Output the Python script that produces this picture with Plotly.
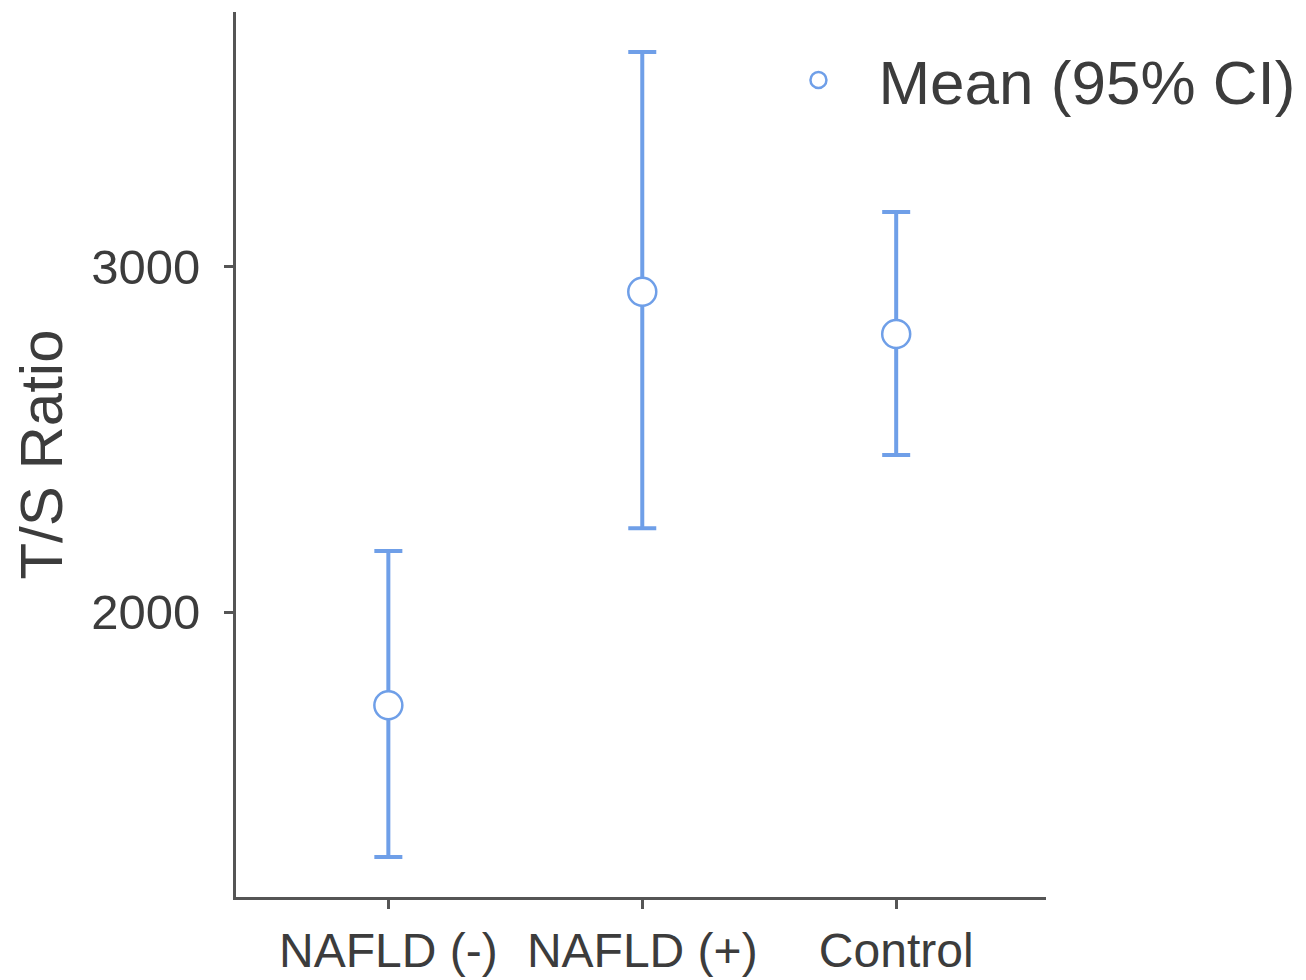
import plotly.graph_objects as go

categories = ["NAFLD (-)", "NAFLD (+)", "Control"]
means = [1730, 2928, 2806]
upper = [2177, 3623, 3159]
lower = [1290, 2243, 2455]
y_ticks = [2000, 3000]

err_plus = [u - m for u, m in zip(upper, means)]
err_minus = [m - l for m, l in zip(means, lower)]

blue = "#6f9fe8"
axis_col = "#555555"
text_col = "#3c3c3c"
font_family = "Liberation Sans, Arial, sans-serif"

fig = go.Figure()
fig.add_trace(go.Scatter(
    x=list(range(len(categories))),
    y=means,
    mode="markers",
    name="Mean (95% CI)",
    marker=dict(symbol="circle", size=28, color="white",
                line=dict(color=blue, width=2.5)),
    error_y=dict(type="data", symmetric=False, array=err_plus, arrayminus=err_minus,
                 color=blue, thickness=4, width=14),
))

fig.update_layout(
    width=1298, height=972,
    margin=dict(l=228, r=260, t=4, b=83),
    paper_bgcolor="white", plot_bgcolor="white",
    font=dict(family=font_family, color=text_col),
    showlegend=True,
    legend=dict(x=0.645, y=0.976, xanchor="left", yanchor="top",
                font=dict(size=62, color=text_col),
                bgcolor="rgba(0,0,0,0)", itemsizing="trace", itemwidth=110),
    xaxis=dict(
        range=[-0.6, 2.59], tickmode="array",
        tickvals=list(range(len(categories))), ticktext=categories,
        showgrid=False, zeroline=False, showline=True, linecolor=axis_col, linewidth=3,
        ticks="outside", ticklen=9, tickwidth=2.5, tickcolor=axis_col,
        tickfont=dict(size=48, color=text_col), ticklabelstandoff=0,
        automargin=False,
    ),
    yaxis=dict(
        range=[1174, 3739], tickmode="array", tickvals=y_ticks,
        ticktext=[str(v) for v in y_ticks],
        showgrid=False, zeroline=False, showline=True, linecolor=axis_col, linewidth=3,
        ticks="outside", ticklen=9, tickwidth=2.5, tickcolor=axis_col,
        tickfont=dict(size=49, color=text_col), ticklabelstandoff=14,
        title=dict(text="T/S Ratio", font=dict(size=60, color=text_col), standoff=24),
        automargin=False,
    ),
)

fig.write_html("out.html")
